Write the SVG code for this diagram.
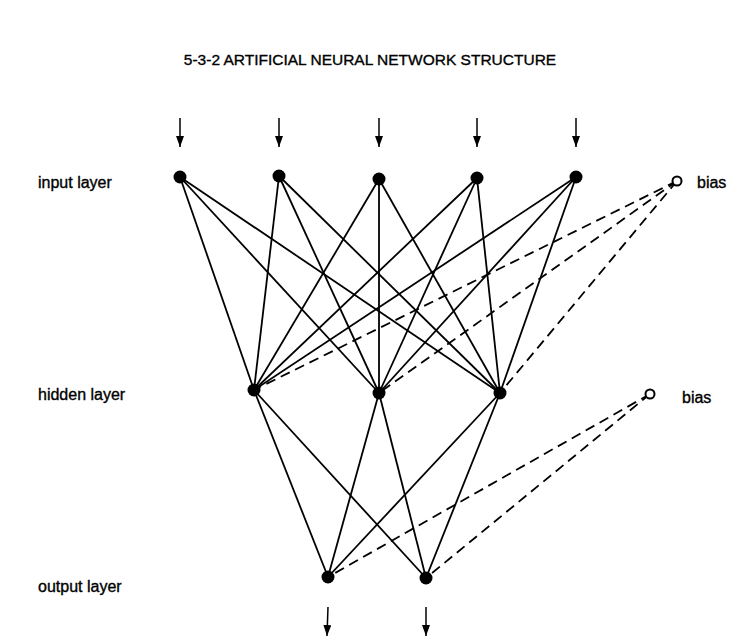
<svg xmlns="http://www.w3.org/2000/svg" width="735" height="639" viewBox="0 0 735 639">
  <defs>
    <marker id="arrowhead" markerWidth="11" markerHeight="8" refX="11" refY="4" orient="auto" markerUnits="userSpaceOnUse" viewBox="0 0 11 8">
      <path d="M0,0 L11,4 L0,8 Z" fill="#000"/>
    </marker>
  </defs>
  <style>
    text { font-family: "Liberation Sans", Arial, sans-serif; fill: #000; stroke: #000; stroke-width: 0.35; }
    .title { font-size: 15.5px; }
    .label { font-size: 16px; }
    .edge { stroke: #000; stroke-width: 1.8; fill: none; }
    .bias-edge { stroke: #000; stroke-width: 1.8; fill: none; stroke-dasharray: 10 6; }
    .io { stroke: #000; stroke-width: 1.5; fill: none; }
    .node { fill: #000; }
    .bias { fill: #fff; stroke: #000; stroke-width: 2; }
  </style>
  <rect width="735" height="639" fill="#fff"/>

  <text class="title" x="370" y="65" text-anchor="middle">5-3-2 ARTIFICIAL NEURAL NETWORK STRUCTURE</text>

  <text class="label" x="38" y="188">input layer</text>
  <text class="label" x="38" y="400">hidden layer</text>
  <text class="label" x="38" y="592">output layer</text>

  <g id="connectors">
    <!-- input to hidden -->
    <line class="edge" x1="180" y1="177" x2="254" y2="390"/>
    <line class="edge" x1="180" y1="177" x2="379" y2="393"/>
    <line class="edge" x1="180" y1="177" x2="500" y2="393"/>
    <line class="edge" x1="279" y1="176" x2="254" y2="390"/>
    <line class="edge" x1="279" y1="176" x2="379" y2="393"/>
    <line class="edge" x1="279" y1="176" x2="500" y2="393"/>
    <line class="edge" x1="379" y1="179" x2="254" y2="390"/>
    <line class="edge" x1="379" y1="179" x2="379" y2="393"/>
    <line class="edge" x1="379" y1="179" x2="500" y2="393"/>
    <line class="edge" x1="477" y1="178" x2="254" y2="390"/>
    <line class="edge" x1="477" y1="178" x2="379" y2="393"/>
    <line class="edge" x1="477" y1="178" x2="500" y2="393"/>
    <line class="edge" x1="576" y1="177" x2="254" y2="390"/>
    <line class="edge" x1="576" y1="177" x2="379" y2="393"/>
    <line class="edge" x1="576" y1="177" x2="500" y2="393"/>
    <!-- input bias to hidden -->
    <line class="bias-edge" x1="677" y1="181" x2="254" y2="390"/>
    <line class="bias-edge" x1="677" y1="181" x2="379" y2="393"/>
    <line class="bias-edge" x1="677" y1="181" x2="500" y2="393"/>
    <!-- hidden to output -->
    <line class="edge" x1="254" y1="390" x2="328" y2="577"/>
    <line class="edge" x1="254" y1="390" x2="426" y2="578"/>
    <line class="edge" x1="379" y1="393" x2="328" y2="577"/>
    <line class="edge" x1="379" y1="393" x2="426" y2="578"/>
    <line class="edge" x1="500" y1="393" x2="328" y2="577"/>
    <line class="edge" x1="500" y1="393" x2="426" y2="578"/>
    <!-- hidden bias to output -->
    <line class="bias-edge" x1="650" y1="394" x2="328" y2="577"/>
    <line class="bias-edge" x1="650" y1="394" x2="426" y2="578"/>
    <!-- external inputs and outputs -->
    <line class="io" x1="180" y1="118" x2="180" y2="147" marker-end="url(#arrowhead)"/>
    <line class="io" x1="279" y1="118" x2="279" y2="147" marker-end="url(#arrowhead)"/>
    <line class="io" x1="379" y1="118" x2="379" y2="147" marker-end="url(#arrowhead)"/>
    <line class="io" x1="477" y1="118" x2="477" y2="147" marker-end="url(#arrowhead)"/>
    <line class="io" x1="576" y1="118" x2="576" y2="147" marker-end="url(#arrowhead)"/>
    <line class="io" x1="328" y1="607" x2="327" y2="636" marker-end="url(#arrowhead)"/>
    <line class="io" x1="426" y1="607" x2="426" y2="636" marker-end="url(#arrowhead)"/>
  </g>

  <g id="input-1"><circle class="node" cx="180" cy="177" r="6.5"/></g>
  <g id="input-2"><circle class="node" cx="279" cy="176" r="6.5"/></g>
  <g id="input-3"><circle class="node" cx="379" cy="179" r="6.5"/></g>
  <g id="input-4"><circle class="node" cx="477" cy="178" r="6.5"/></g>
  <g id="input-5"><circle class="node" cx="576" cy="177" r="6.5"/></g>
  <g id="input-bias">
    <circle class="bias" cx="677" cy="181" r="4.5"/>
    <text class="label" x="697" y="188">bias</text>
  </g>

  <g id="hidden-1"><circle class="node" cx="254" cy="390" r="6.5"/></g>
  <g id="hidden-2"><circle class="node" cx="379" cy="393" r="6.5"/></g>
  <g id="hidden-3"><circle class="node" cx="500" cy="393" r="6.5"/></g>
  <g id="hidden-bias">
    <circle class="bias" cx="650" cy="394" r="4.5"/>
    <text class="label" x="682" y="403">bias</text>
  </g>

  <g id="output-1"><circle class="node" cx="328" cy="577" r="6.5"/></g>
  <g id="output-2"><circle class="node" cx="426" cy="578" r="6.5"/></g>
</svg>
